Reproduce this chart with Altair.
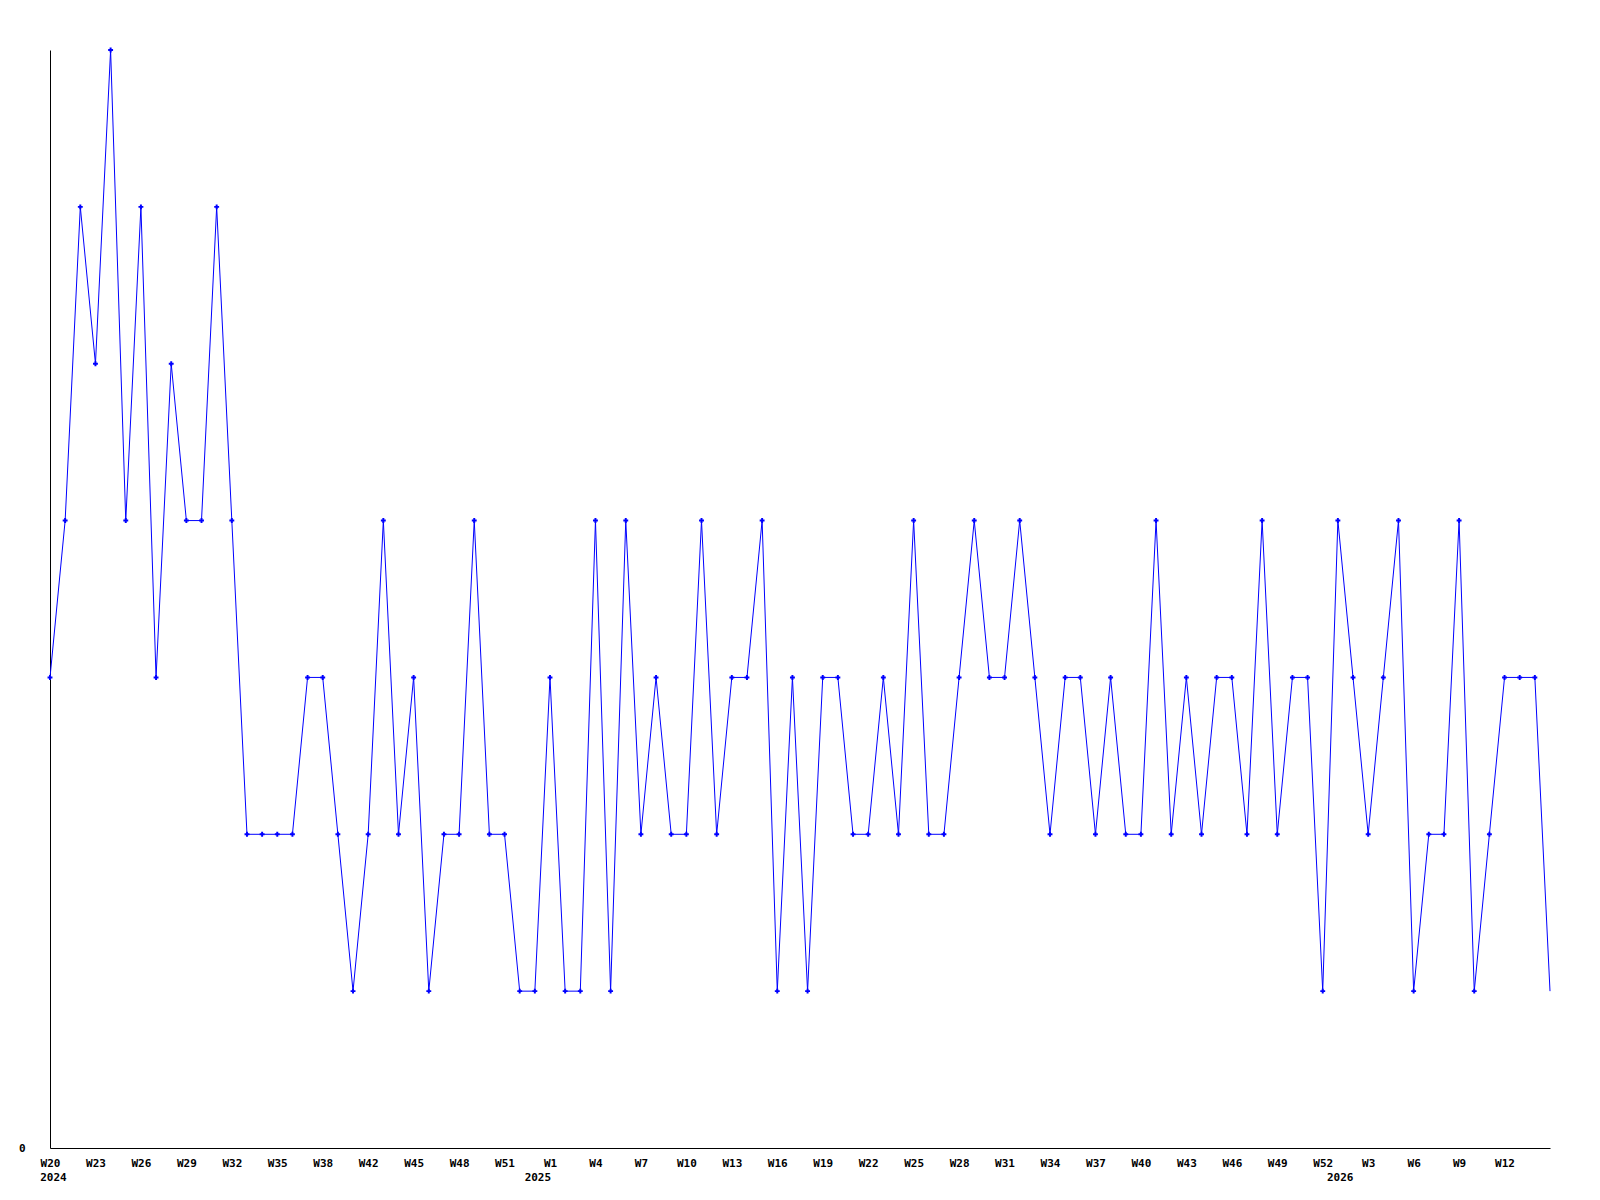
import altair as alt
import pandas as pd

# Weekly values, W20 2024 onward (one per week)
values = [3, 4, 6, 5, 7, 4, 6, 3, 5, 4,
          4, 6, 4, 2, 2, 2, 2, 3, 3, 2,
          1, 2, 4, 2, 3, 1, 2, 2, 4, 2,
          2, 1, 1, 3, 1, 1, 4, 1, 4, 2,
          3, 2, 2, 4, 2, 3, 3, 4, 1, 3,
          1, 3, 3, 2, 2, 3, 2, 4, 2, 2,
          3, 4, 3, 3, 4, 3, 2, 3, 3, 2,
          3, 2, 2, 4, 2, 3, 2, 3, 3, 2,
          4, 2, 3, 3, 1, 4, 3, 2, 3, 4,
          1, 2, 2, 4, 1, 2, 3, 3, 3, 1]

tick_labels = ["W20", "W23", "W26", "W29", "W32", "W35", "W38", "W42", "W45",
               "W48", "W51", "W1", "W4", "W7", "W10", "W13", "W16", "W19",
               "W22", "W25", "W28", "W31", "W34", "W37", "W40", "W43", "W46",
               "W49", "W52", "W3", "W6", "W9", "W12"]

years = ["2024", "2025", "2026"]
year_pos = [0.23, 32.2, 85.15]

FONT = "DejaVu Sans Mono"
BLUE = "#0000ff"

df = pd.DataFrame({"i": list(range(len(values))), "v": values})
df_pts = df.iloc[:-1]
df_years = pd.DataFrame({"i": year_pos, "t": years})

tick_vals = [3 * k for k in range(len(tick_labels))]
label_expr = "[" + ",".join("'%s'" % s for s in tick_labels) + "][round(datum.value/3)]"

xscale = alt.Scale(domain=[0, len(values) - 1], nice=False, zero=False)
yscale = alt.Scale(domain=[0, 7], nice=False, zero=True)

xaxis = alt.Axis(values=tick_vals, labelExpr=label_expr, ticks=False, grid=False,
                 domainColor="black", domainWidth=1, labelFont=FONT, labelFontSize=11,
                 labelFontWeight="bold", labelColor="black", labelPadding=9,
                 labelFlush=False, labelOverlap=False, title=None)
yaxis = alt.Axis(values=[0], format="d", ticks=False, grid=False, domainColor="black", domainWidth=1,
                 labelFont=FONT, labelFontSize=11, labelFontWeight="bold",
                 labelColor="black", labelPadding=25, labelBaseline="middle", title=None)

line = alt.Chart(df).mark_line(color=BLUE, strokeWidth=1, interpolate="linear").encode(
    x=alt.X("i:Q", scale=xscale, axis=xaxis),
    y=alt.Y("v:Q", scale=yscale, axis=yaxis),
)

pts = alt.Chart(df_pts).mark_point(shape="cross", filled=True, color=BLUE, size=24, opacity=1).encode(
    x=alt.X("i:Q", scale=xscale),
    y=alt.Y("v:Q", scale=yscale),
)

yr = alt.Chart(df_years).mark_text(font=FONT, fontSize=11, fontWeight="bold", color="black",
                                   align="center", baseline="middle").encode(
    x=alt.X("i:Q", scale=xscale),
    y=alt.value(1128),
    text="t:N",
)

chart = alt.layer(line, pts, yr).properties(
    width=1500, height=1098,
    autosize=alt.AutoSizeParams(type="none"),
    padding={"left": 42, "top": 42, "right": 30, "bottom": 40},
    view=alt.ViewBackground(stroke=None, strokeWidth=0, strokeOpacity=0),
).configure_view(stroke=None, strokeWidth=0).configure(background="white")

chart.save("out.html", embed_options={"renderer": "svg", "actions": False})
